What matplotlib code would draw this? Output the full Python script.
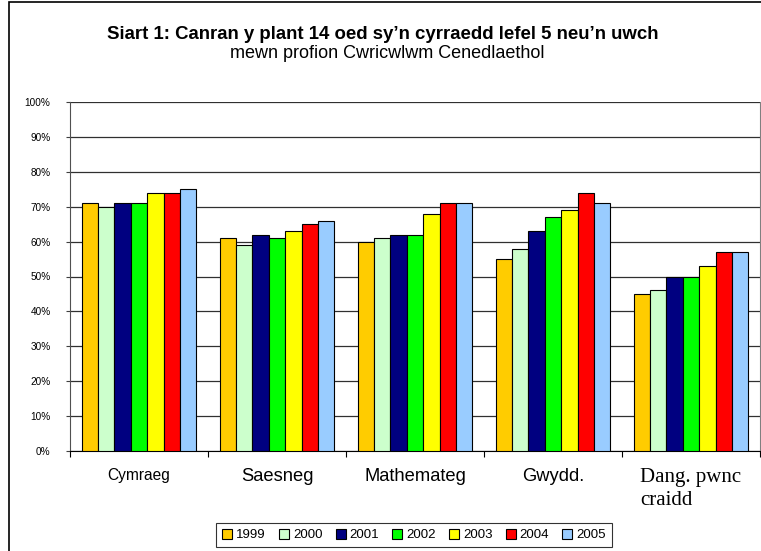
import numpy as np
import matplotlib.pyplot as plt
from matplotlib.patches import Rectangle

categories = ['Cymraeg', 'Saesneg', 'Mathemateg', 'Gwydd.', 'Dang. pwnc\ncraidd']
years = ['1999', '2000', '2001', '2002', '2003', '2004', '2005']
colors = ['#FFCC00', '#CCFFCC', '#000080', '#00FF00', '#FFFF00', '#FF0000', '#99CCFF']

v1999 = [71, 61, 60, 55, 45]
v2000 = [70, 59, 61, 58, 46]
v2001 = [71, 62, 62, 63, 50]
v2002 = [71, 61, 62, 67, 50]
v2003 = [74, 63, 68, 69, 53]
v2004 = [74, 65, 71, 74, 57]
v2005 = [75, 66, 71, 71, 57]
series = [v1999, v2000, v2001, v2002, v2003, v2004, v2005]

W, H = 761, 551
fig = plt.figure(figsize=(W / 100, H / 100), dpi=100)
fig.patches.append(Rectangle((9 / W, -0.01), 1.0, 1 - 1.5 / H + 0.01,
                             transform=fig.transFigure, fill=False,
                             edgecolor='black', linewidth=1.2))

ax = fig.add_axes([70 / W, 1 - 451 / H, 690 / W, 349 / H])

x = np.arange(len(categories))
w = 0.833 / len(years)
for i, (vals, c, yr) in enumerate(zip(series, colors, years)):
    ax.bar(x - 0.4165 + w * (i + 0.5), np.array(vals) / 100, width=w, color=c,
           edgecolor='black', linewidth=0.8, label=yr, zorder=3)

ax.set_xlim(-0.5, 4.5)
ax.set_ylim(0, 1)
yt = np.arange(0, 1.01, 0.1)
ax.set_yticks(yt)
ax.set_yticklabels([f'{int(round(v * 100))}%' for v in yt],
                   fontsize=7.2, family='Liberation Sans')
ax.yaxis.grid(True, color='#303030', linewidth=0.9, zorder=0)
ax.tick_params(axis='y', length=3, width=0.8, pad=11, color='#404040')

ax.set_xticks(x)
ax.set_xticklabels(categories)
ax.set_xticks(np.arange(-0.5, 4.6, 1), minor=True)
ax.tick_params(axis='x', which='major', length=0, pad=12)
ax.tick_params(axis='x', which='minor', length=4, width=0.8)
for lab in ax.get_xticklabels():
    txt = lab.get_text()
    if txt.startswith('Dang'):
        lab.set_family('Liberation Serif')
        lab.set_fontsize(15)
        lab.set_multialignment('left')
        lab.set_linespacing(1.3)
    elif txt == 'Cymraeg':
        lab.set_family('Liberation Sans')
        lab.set_fontsize(11.2)
    else:
        lab.set_family('Liberation Sans')
        lab.set_fontsize(13.2)

ax.spines['top'].set_visible(False)
ax.spines['left'].set_color('#505050')
ax.spines['right'].set_color('#808080')
ax.spines['bottom'].set_color('black')

fig.text(383 / W, 1 - 39 / H, 'Siart 1: Canran y plant 14 oed sy\u2019n cyrraedd lefel 5 neu\u2019n uwch',
         ha='center', va='baseline', fontsize=13.4, fontweight='bold', family='Liberation Sans')
fig.text(387 / W, 1 - 58 / H, 'mewn profion Cwricwlwm Cenedlaethol',
         ha='center', va='baseline', fontsize=13, family='Liberation Sans')

leg = fig.legend(loc='center', bbox_to_anchor=(414 / W, 1 - 535 / H), ncol=7,
                 prop={'family': 'Liberation Sans', 'size': 9.5}, frameon=True,
                 fancybox=False, edgecolor='black', handlelength=0.76, handleheight=0.76,
                 handletextpad=0.3, columnspacing=1.0, borderpad=0.45, borderaxespad=0)
leg.get_frame().set_linewidth(0.8)

fig.savefig('out.png', dpi=100)
